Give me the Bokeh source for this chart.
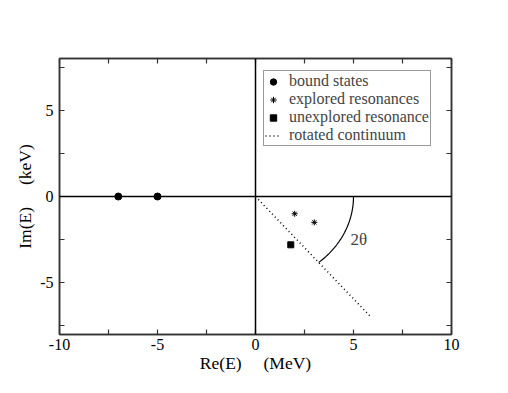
import numpy as np
from bokeh.plotting import figure
from bokeh.models import (FixedTicker, LinearAxis, Span, Legend, LegendItem, Label, Range1d)
from bokeh.embed import file_html
from bokeh.resources import INLINE

# ---- data ----
bound_re = [-7.0, -5.0]
bound_im = [0.0, 0.0]
explored_re = [2.0, 3.0]
explored_im = [-1.0, -1.5]
unexplored_re = [1.8]
unexplored_im = [-2.8]
continuum_re = [0.0, 5.9]
continuum_im = [0.0, -7.0]
arc_radius = 5.0
x_ticks = [-10, -5, 0, 5, 10]
x_minor = [-7.5, -2.5, 2.5, 7.5]
y_ticks = [-5, 0, 5]
y_minor = [-7.5, -2.5, 2.5, 7.5]

FONT = "Liberation Serif"
GAP = "\u00a0" * 5

p = figure(width=500, height=385, x_range=Range1d(-10, 10), y_range=Range1d(-8, 8),
           output_backend="svg", toolbar_location=None,
           min_border_left=59, min_border_right=49, min_border_top=58, min_border_bottom=51)
p.xaxis.visible = False
p.yaxis.visible = False
p.grid.visible = False
p.outline_line_color = "#333333"
p.outline_line_width = 1.5

def style_axis(ax, ticks, minor, show_labels, label=None, label_standoff=2):
    if show_labels:
        ax.ticker = FixedTicker(ticks=ticks, minor_ticks=minor)
        ax.major_label_overrides = {t: str(t) for t in ticks}
    else:
        ax.ticker = FixedTicker(ticks=[], minor_ticks=sorted(list(ticks) + list(minor)))
    ax.major_tick_in = 5
    ax.major_tick_out = 0
    ax.minor_tick_in = 5
    ax.minor_tick_out = 0
    ax.axis_line_color = "#333333"
    ax.axis_line_width = 1.5
    ax.major_tick_line_color = "#333333"
    ax.minor_tick_line_color = "#333333"
    ax.major_tick_line_width = 1.2
    ax.minor_tick_line_width = 1.2
    ax.major_label_text_font = FONT
    ax.major_label_text_font_size = "16px"
    ax.major_label_text_color = "black"
    ax.major_label_standoff = 4
    if label:
        ax.axis_label = label
        ax.axis_label_text_font = FONT
        ax.axis_label_text_font_size = "17.5px"
        ax.axis_label_text_font_style = "normal"
        ax.axis_label_text_color = "black"
        ax.axis_label_standoff = label_standoff

xb = LinearAxis(); style_axis(xb, x_ticks, x_minor, True, "Re(E)" + GAP + "(MeV)", 0)
xt = LinearAxis(); style_axis(xt, x_ticks, x_minor, False)
yl = LinearAxis(); style_axis(yl, y_ticks, y_minor, True, "Im(E)" + GAP + "(keV)", 2)
yr = LinearAxis(); style_axis(yr, y_ticks, y_minor, False)
yl.major_label_orientation = "horizontal"
yl.major_label_standoff = 6
p.add_layout(xb, "below")
p.add_layout(xt, "above")
p.add_layout(yl, "left")
p.add_layout(yr, "right")

p.add_layout(Span(location=0, dimension="width", line_color="black", line_width=1.5))
p.add_layout(Span(location=0, dimension="height", line_color="black", line_width=1.5))

r_bound = p.scatter(bound_re, bound_im, marker="circle", size=7, color="black")
r_expl = p.scatter(explored_re, explored_im, marker="asterisk", size=6, line_color="black", line_width=1)
r_unexp = p.scatter(unexplored_re, unexplored_im, marker="square", size=6, color="black")
r_cont = p.line(continuum_re, continuum_im, line_color="black", line_width=1.5, line_dash="1 3")

# arc of radius 5 from the positive real axis to the rotated continuum
ang = np.arctan2(continuum_im[-1], continuum_re[-1])
t = np.linspace(0, ang, 60)
p.line(arc_radius * np.cos(t), arc_radius * np.sin(t), line_color="black", line_width=1.2)
p.add_layout(Label(x=4.85, y=-2.5, text="2θ", text_font=FONT, text_font_size="17px",
                   text_baseline="middle", text_align="left"))

legend = Legend(items=[
    LegendItem(label="bound states", renderers=[r_bound]),
    LegendItem(label="explored resonances", renderers=[r_expl]),
    LegendItem(label="unexplored resonance", renderers=[r_unexp]),
    LegendItem(label="rotated continuum", renderers=[r_cont]),
], location=(204, 188), orientation="vertical")
legend.label_text_font = FONT
legend.label_text_font_size = "16px"
legend.label_height = 17
legend.glyph_height = 17
legend.glyph_width = 16
legend.label_standoff = 8
legend.label_width = 140
legend.padding = 1
legend.spacing = -2
legend.margin = 0
legend.border_line_color = "#333333"
legend.border_line_width = 1
legend.background_fill_alpha = 1
p.add_layout(legend, "center")

open("out.html", "w").write(file_html(p, INLINE))
